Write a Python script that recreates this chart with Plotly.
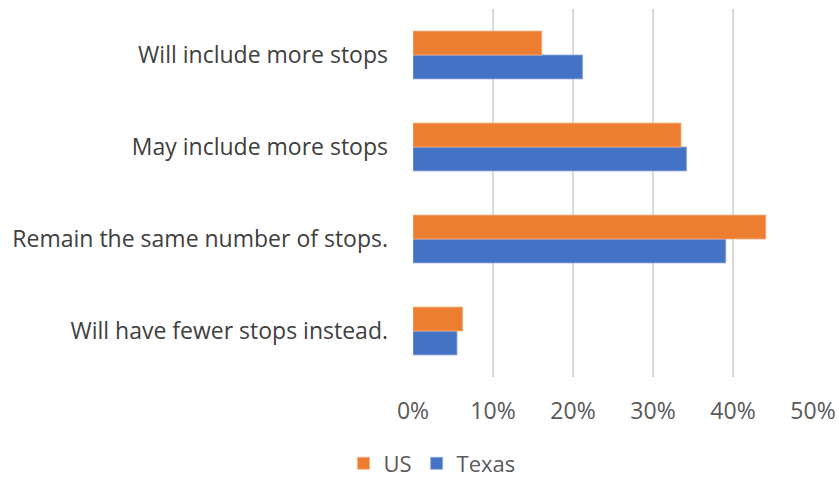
import plotly.graph_objects as go

categories = [
    "Will include more stops",
    "May include more stops",
    "Remain the same number of stops.",
    "Will have fewer stops instead.",
]
us_values = [0.161, 0.335, 0.441, 0.062]
texas_values = [0.212, 0.342, 0.391, 0.055]
x_ticks = [0, 0.1, 0.2, 0.3, 0.4, 0.5]
x_tick_labels = ["0%", "10%", "20%", "30%", "40%", "50%"]

font_family = "Open Sans, Liberation Sans, sans-serif"

fig = go.Figure()
fig.add_trace(go.Bar(
    y=categories, x=texas_values, name="Texas", orientation="h",
    marker=dict(color="#4472C4", line=dict(color="#8FAADC", width=0.8)),
))
fig.add_trace(go.Bar(
    y=categories, x=us_values, name="US", orientation="h",
    marker=dict(color="#ED7D31", line=dict(color="#F4B183", width=0.8)),
))

fig.update_layout(
    width=839, height=477,
    margin=dict(l=413, r=26, t=9, b=100, autoexpand=False),
    barmode="group", bargap=0.48, bargroupgap=0,
    plot_bgcolor="white", paper_bgcolor="white",
    font=dict(family=font_family, size=23, color="#595959"),
    showlegend=True,
    legend=dict(
        orientation="h", traceorder="reversed",
        x=0.0475, y=-0.235, xanchor="center", yanchor="middle",
        font=dict(size=22, color="#595959"),
        itemwidth=30,
    ),
    xaxis=dict(
        range=[0, 0.5], tickvals=x_ticks, ticktext=x_tick_labels,
        showgrid=True, gridcolor="#D9D9D9", gridwidth=1.5,
        zeroline=False, showline=False, ticks="",
        ticklabelstandoff=18, automargin=False,
    ),
    yaxis=dict(
        categoryorder="array", categoryarray=categories[::-1],
        showgrid=False, zeroline=False, showline=False, ticks="",
        ticklabelstandoff=24, automargin=False,
        tickfont=dict(color="#404040"),
    ),
)

fig.write_html(
    "out.html",
    config={"displayModeBar": False},
    post_script="document.body.style.margin='0';",
)
